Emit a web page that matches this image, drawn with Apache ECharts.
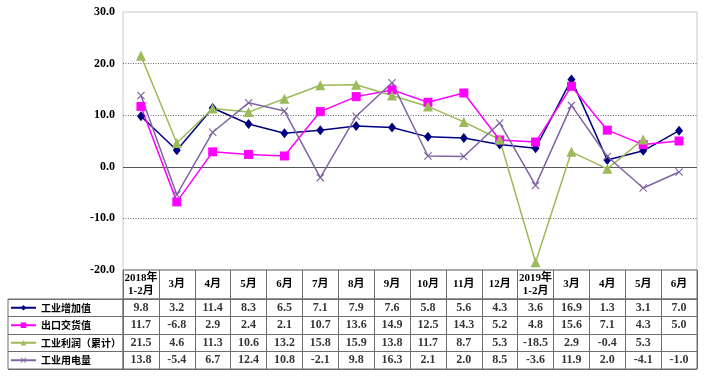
<!DOCTYPE html>
<html><head><meta charset="utf-8">
<script src="https://cdn.jsdelivr.net/npm/echarts@6/dist/echarts.min.js"></script>
<style>html,body{margin:0;padding:0;background:#fff}#c{width:707px;height:382px}</style>
</head><body><div id="c"></div>
<script>
const categories = ['2018年\n1-2月','3月','4月','5月','6月','7月','8月','9月','10月','11月','12月','2019年\n1-2月','3月','4月','5月','6月'];
const seriesNames = ['工业增加值','出口交货值','工业利润（累计）','工业用电量'];
const valueAdded = [9.8,3.2,11.4,8.3,6.5,7.1,7.9,7.6,5.8,5.6,4.3,3.6,16.9,1.3,3.1,7.0];
const exportDelivery = [11.7,-6.8,2.9,2.4,2.1,10.7,13.6,14.9,12.5,14.3,5.2,4.8,15.6,7.1,4.3,5.0];
const profit = [21.5,4.6,11.3,10.6,13.2,15.8,15.9,13.8,11.7,8.7,5.3,-18.5,2.9,-0.4,5.3,null];
const electricity = [13.8,-5.4,6.7,12.4,10.8,-2.1,9.8,16.3,2.1,2.0,8.5,-3.6,11.9,2.0,-4.1,-1.0];
const yMin = -20, yMax = 30, yStep = 10;

const allSeries = [valueAdded, exportDelivery, profit, electricity];
const colors = ['#000080','#FF00FF','#9BBB59','#8064A2'];
const xPath = 'path://M0,1L1,0L5,4L9,0L10,1L6,5L10,9L9,10L5,6L1,10L0,9L4,5Z';
const symbols = ['diamond','rect','triangle', xPath];
const symbolSizes = [[8,10], 9, 10, 8];

const numFont = '"Liberation Serif","Noto Sans CJK SC",serif';
const cjkFont = '"Noto Sans CJK SC",sans-serif';
const borderC = '#6e6e6e';

const tableCells = [];
allSeries.forEach((arr, r) => arr.forEach((v, i) => { if (v !== null) tableCells.push([i, r, v]); }));

const rowTop = 299, rowH = 17.5;

const lineSeries = allSeries.map((arr, k) => ({
  name: seriesNames[k], type: 'line', xAxisIndex: 0, yAxisIndex: 0,
  data: arr, symbol: symbols[k], symbolSize: symbolSizes[k],
  itemStyle: { color: colors[k] }, lineStyle: { color: colors[k], width: 1.5 },
  z: 3,
  markLine: k === 0 ? { silent: true, symbol: 'none', label: { show: false },
    lineStyle: { color: '#555', type: 'solid', width: 1 }, data: [{ yAxis: 0 }], z: 1 } : undefined
}));

const legends = seriesNames.map((n, r) => ({
  left: 10, top: rowTop + rowH * (r + 0.5) - 6.5, padding: 0, itemWidth: 25, itemHeight: 7,
  selectedMode: false, data: [n],
  textStyle: { fontSize: 10, fontWeight: 'bold', color: '#000', fontFamily: cjkFont, lineHeight: 13 }
}));

const chart = echarts.init(document.getElementById('c'));
chart.setOption({
  animation: false,
  backgroundColor: '#fff',
  legend: legends,
  grid: [
    { left: 123, right: 10, top: 12, height: 258, show: true, borderColor: '#c8c8c8', borderWidth: 1, backgroundColor: 'transparent' },
    { left: 123, right: 10, top: 270, height: 29, show: true, borderColor: borderC, borderWidth: 1 },
    { left: 123, right: 10, top: rowTop, height: rowH * 4, show: true, borderColor: borderC, borderWidth: 1 },
    { left: 8, width: 115, top: rowTop, height: rowH * 4, show: true, borderColor: borderC, borderWidth: 1 }
  ],
  xAxis: [
    { gridIndex: 0, type: 'category', data: categories, boundaryGap: true,
      axisLine: { show: false }, axisTick: { show: false }, splitLine: { show: false },
      axisLabel: { interval: 0, margin: 14.5, verticalAlign: 'middle', fontSize: 11, fontWeight: 'bold',
        color: '#000', fontFamily: numFont, lineHeight: 13 } },
    { gridIndex: 1, type: 'category', data: categories, boundaryGap: true,
      axisLine: { show: false }, axisTick: { show: false }, axisLabel: { show: false },
      splitLine: { show: true, interval: 0, lineStyle: { color: borderC, width: 1 } } },
    { gridIndex: 2, type: 'category', data: categories, boundaryGap: true,
      axisLine: { show: false }, axisTick: { show: false }, axisLabel: { show: false },
      splitLine: { show: true, interval: 0, lineStyle: { color: borderC, width: 1 } } },
    { gridIndex: 3, type: 'value', min: 0, max: 1, show: false }
  ],
  yAxis: [
    { gridIndex: 0, type: 'value', min: yMin, max: yMax, interval: yStep,
      axisLine: { show: false }, axisTick: { show: false },
      axisLabel: { margin: 8, fontSize: 12, fontWeight: 'bold', color: '#000', fontFamily: numFont,
        formatter: v => v.toFixed(1) },
      splitLine: { show: true, showMinLine: false, showMaxLine: false,
        lineStyle: { color: '#666', type: [1, 1.5], width: 1 } } },
    { gridIndex: 1, type: 'value', min: 0, max: 1, show: false },
    { gridIndex: 2, type: 'category', data: seriesNames, inverse: true, boundaryGap: true,
      axisLine: { show: false }, axisTick: { show: false }, axisLabel: { show: false },
      splitLine: { show: true, interval: 0, lineStyle: { color: borderC, width: 1 } } },
    { gridIndex: 3, type: 'category', data: seriesNames, inverse: true, boundaryGap: true,
      axisLine: { show: false }, axisTick: { show: false }, axisLabel: { show: false },
      splitLine: { show: true, interval: 0, lineStyle: { color: borderC, width: 1 } } }
  ],
  series: lineSeries.concat([{
    type: 'scatter', xAxisIndex: 2, yAxisIndex: 2, data: tableCells, symbolSize: 1,
    itemStyle: { color: 'transparent' }, silent: true,
    label: { show: true, position: 'inside', formatter: p => p.value[2].toFixed(1),
      fontSize: 12, fontWeight: 'bold', color: '#000', fontFamily: numFont }
  }])
});
</script></body></html>
